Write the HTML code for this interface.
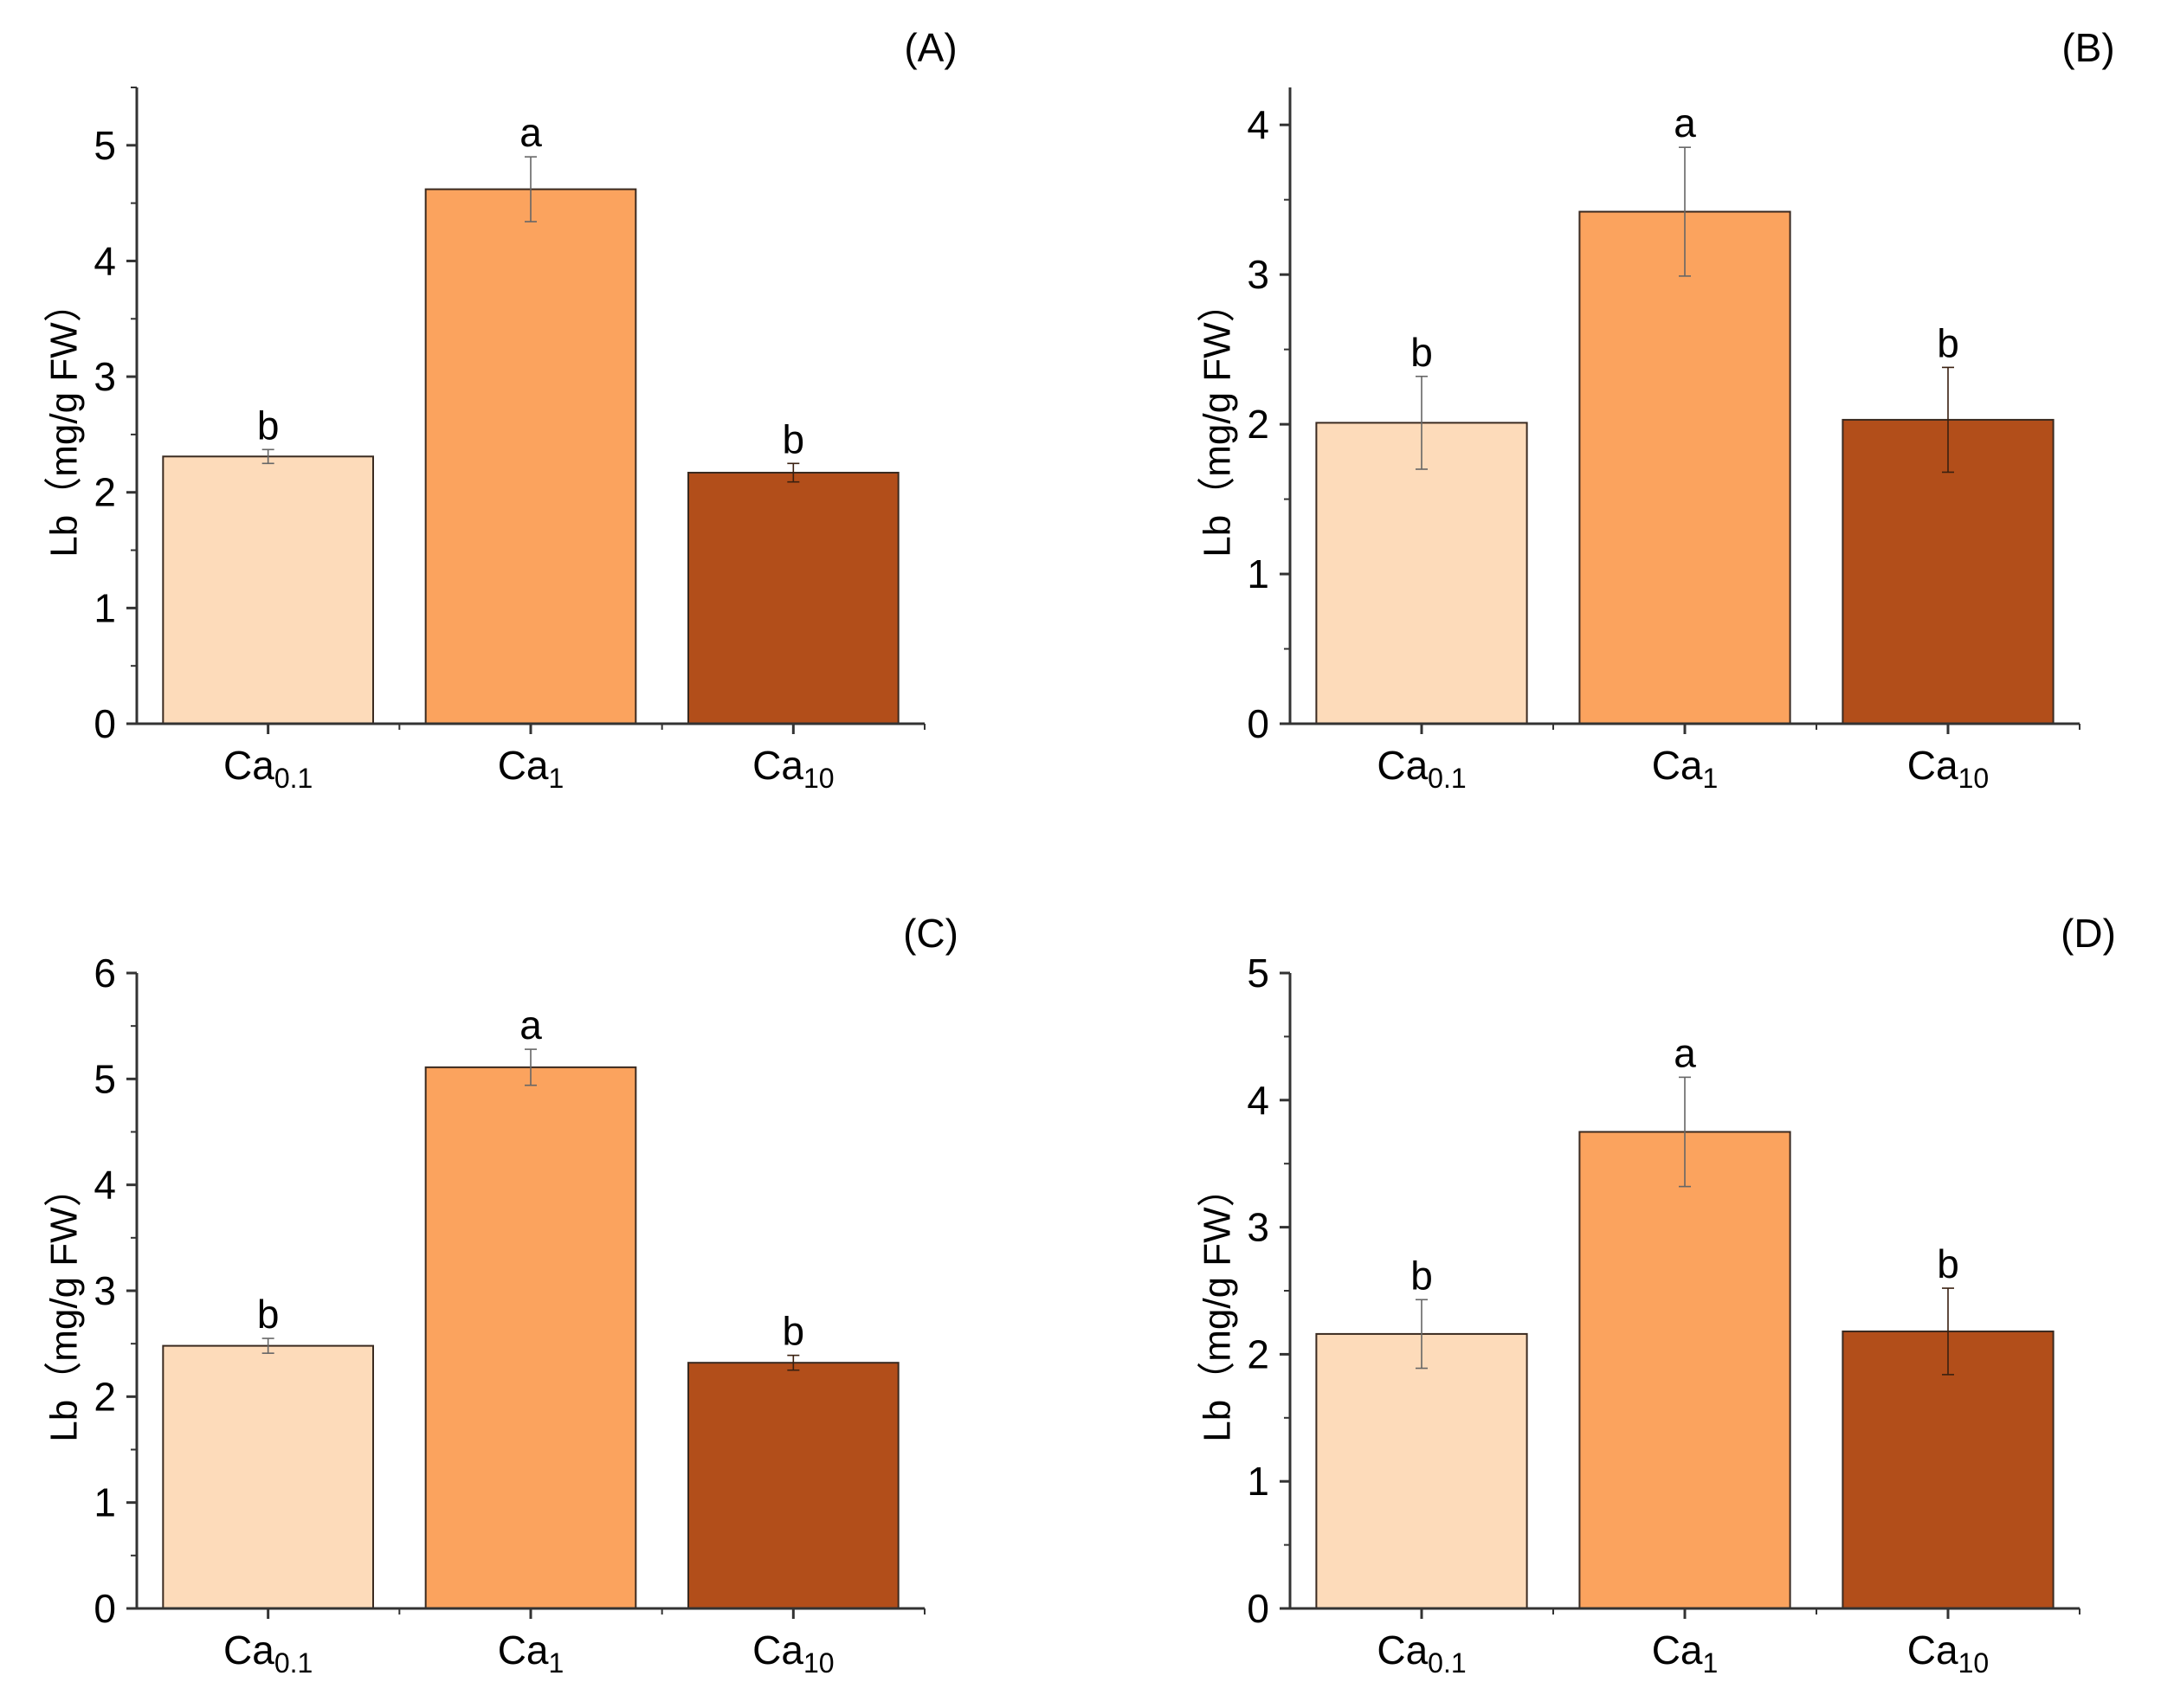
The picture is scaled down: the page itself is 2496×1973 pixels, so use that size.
<!DOCTYPE html>
<html><head><meta charset="utf-8"><style>
html,body{margin:0;padding:0;background:#fff;}
svg{display:block;font-family:"Liberation Sans","Noto Sans CJK SC",sans-serif;}
</style></head><body>
<svg id="chart" width="2496" height="1973" viewBox="0 0 2496 1973" xmlns="http://www.w3.org/2000/svg"></svg>
<script>
const categories = ["0.1", "1", "10"];
const panelLabels = ["(A)", "(B)", "(C)", "(D)"];
const valuesA = [2.31, 4.62, 2.17];
const errorsA = [0.06, 0.28, 0.08];
const lettersA = ["b", "a", "b"];
const valuesB = [2.01, 3.42, 2.03];
const errorsB = [0.31, 0.43, 0.35];
const lettersB = ["b", "a", "b"];
const valuesC = [2.48, 5.11, 2.32];
const errorsC = [0.07, 0.17, 0.07];
const lettersC = ["b", "a", "b"];
const valuesD = [2.16, 3.75, 2.18];
const errorsD = [0.27, 0.43, 0.34];
const lettersD = ["b", "a", "b"];
const yMaxes = [5.5, 4.25, 6, 5];
const yTickLabelsA = ["0","1","2","3","4","5"];
const yTickLabelsB = ["0","1","2","3","4"];
const yTickLabelsC = ["0","1","2","3","4","5","6"];
const yTickLabelsD = ["0","1","2","3","4","5"];
const barColors = ["#FDDBBA", "#FBA35E", "#B24E1A"];

const NS = "http://www.w3.org/2000/svg";
const svg = document.getElementById("chart");
function mk(tag, attrs, parent) {
  const e = document.createElementNS(NS, tag);
  for (const k in attrs) e.setAttribute(k, attrs[k]);
  (parent || svg).appendChild(e);
  return e;
}
const layout = [
  {x0: 158, top: 101, base: 836, x1: 1068},
  {x0: 1490, top: 101, base: 836, x1: 2402},
  {x0: 158, top: 1124, base: 1858, x1: 1068},
  {x0: 1490, top: 1124, base: 1858, x1: 2402}
];
const allValues = [valuesA, valuesB, valuesC, valuesD];
const allErrors = [errorsA, errorsB, errorsC, errorsD];
const allLetters = [lettersA, lettersB, lettersC, lettersD];
const allTicks = [yTickLabelsA, yTickLabelsB, yTickLabelsC, yTickLabelsD];
const panelNames = ["a","b","c","d"];

layout.forEach((L, p) => {
  const g = mk("g", {});
  
  
  const yMax = yMaxes[p];
  const yScale = v => L.base - v / yMax * (L.base - L.top);
  const band = (L.x1 - L.x0) / categories.length;
  const xCenter = i => L.x0 + band * (i + 0.5);
  const barW = band * 0.8;

  allValues[p].forEach((v, i) => {
    const r = mk("rect", {x: xCenter(i) - barW/2, y: yScale(v), width: barW, height: L.base - yScale(v), fill: barColors[i], stroke: "#3a2a20", "stroke-width": 2}, g);
    
    
    const e = allErrors[p][i];
    const eg = mk("g", {stroke: i === 2 ? "#3a2010" : "#666", "stroke-width": 1.6, fill: "none"}, g);
    
    
    const cx = xCenter(i), yt = yScale(v + e), yb = yScale(v - e);
    mk("line", {x1: cx, x2: cx, y1: yt, y2: yb}, eg);
    mk("line", {x1: cx - 7, x2: cx + 7, y1: yt, y2: yt}, eg);
    mk("line", {x1: cx - 7, x2: cx + 7, y1: yb, y2: yb}, eg);
    const t = mk("text", {x: cx, y: yt - 12, "font-size": 46, "text-anchor": "middle", fill: "#000"}, g);
    t.textContent = allLetters[p][i];
    
    
  });

  const ax = mk("g", {stroke: "#333", "stroke-width": 3}, g);
  
  
  mk("line", {x1: L.x0, x2: L.x0, y1: L.top, y2: L.base + 1.5}, ax);
  mk("line", {x1: L.x0 - 1.5, x2: L.x1, y1: L.base, y2: L.base}, ax);
  allTicks[p].forEach((lab) => {
    const v = parseFloat(lab);
    const y = yScale(v);
    mk("line", {x1: L.x0 - 12, x2: L.x0, y1: y, y2: y}, ax);
    const t = mk("text", {x: L.x0 - 24, y: y + 16, "font-size": 46, "text-anchor": "end", fill: "#000"}, g);
    t.textContent = lab;
    
    
    if (v + 0.5 <= yMax) {
      const ym = yScale(v + 0.5);
      mk("line", {x1: L.x0 - 7, x2: L.x0, y1: ym, y2: ym, "stroke-width": 2}, ax);
    }
  });
  categories.forEach((c, i) => {
    const cx = xCenter(i);
    mk("line", {x1: cx, x2: cx, y1: L.base, y2: L.base + 12}, ax);
    mk("line", {x1: L.x0 + band * (i + 1), x2: L.x0 + band * (i + 1), y1: L.base, y2: L.base + 7, "stroke-width": 2}, ax);
    const t = mk("text", {x: cx, y: L.base + 64, "font-size": 46, "text-anchor": "middle", fill: "#000"}, g);
    
    
    const t1 = mk("tspan", {}, t); t1.textContent = "Ca";
    const t2 = mk("tspan", {"font-size": 32, dy: 10}, t); t2.textContent = c;
  });
  const ty = L.base - 350, tx = L.x0 - 84;
  const yt = mk("text", {x: tx, y: ty, "font-size": 44, "text-anchor": "middle", "dominant-baseline": "central", transform: `rotate(-90 ${tx} ${ty})`, fill: "#000"}, g);
  yt.textContent = "Lb（mg/g FW）";
  
  
  const pl = mk("text", {x: (p % 2 === 0) ? 1075 : 2412, y: L.top - 30, "font-size": 46, "text-anchor": "middle", fill: "#000"}, g);
  pl.textContent = panelLabels[p];
  
  
});
</script>
</body></html>
